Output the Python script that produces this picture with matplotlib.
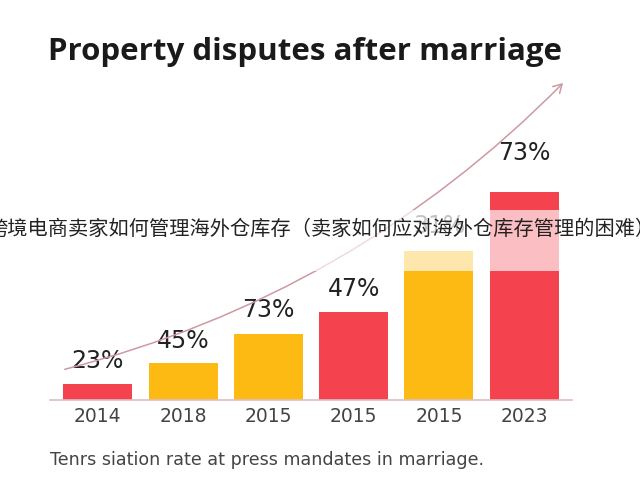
import matplotlib
matplotlib.use("Agg")
import matplotlib.pyplot as plt
from matplotlib.patches import Rectangle, FancyArrowPatch

# ---- data ----
years = ["2014", "2018", "2015", "2015", "2015", "2023"]
heights = [4.7, 10.9, 19.4, 25.9, 43.8, 61.2]
value_labels = ["23%", "45%", "73%", "47%", "31%", "73%"]
bar_colors = ["#F5424F", "#FDBA12", "#FDBA12", "#F5424F", "#FDBA12", "#F5424F"]
label_offsets = [23, 22, 24, 23, 25, 39]   # px above bar top
label_colors = ["#222222", "#222222", "#222222", "#222222", "#555555", "#222222"]

title = "Property disputes after marriage"
overlay = "跨境电商卖家如何管理海外仓库存（卖家如何应对海外仓库存管理的困难）"
footer = "Tenrs siation rate at press mandates in marriage."

W, H = 640, 480
fig = plt.figure(figsize=(6.4, 4.8), dpi=100)
fig.patch.set_facecolor("white")

ax = fig.add_axes([50 / W, 80 / H, 522 / W, 340 / H])
ax.set_xlim(-0.56, 5.56)
ax.set_ylim(0, 100)
x = list(range(len(years)))
ax.bar(x, heights, width=0.81, color=bar_colors, zorder=2)

for s in ["top", "right", "left"]:
    ax.spines[s].set_visible(False)
ax.spines["bottom"].set_color("#D9BFC3")
ax.spines["bottom"].set_linewidth(1.2)
ax.set_yticks([])
ax.set_xticks(x)
ax.set_xticklabels(years, fontsize=13.5, color="#444444")
ax.tick_params(axis="x", length=0, pad=5)
ax.patch.set_alpha(0)

px_per_unit = 340 / 100.0
for xi, h, lab, off, c in zip(x, heights, value_labels, label_offsets, label_colors):
    ax.text(xi, h + off / px_per_unit, lab, ha="center", va="center",
            fontsize=17, color=c, zorder=3)

# curved arrow
arrow = FancyArrowPatch((62 / W, 1 - 370 / H), (565 / W, 1 - 81 / H),
                        transform=fig.transFigure,
                        connectionstyle="arc3,rad=0.14",
                        arrowstyle="->,head_length=6,head_width=3.5",
                        color="#CF98A2", lw=1.1, zorder=1)
fig.add_artist(arrow)

# semi-transparent overlay band
band = Rectangle((0, 1 - 271 / H), 1, 61 / H, transform=fig.transFigure,
                 facecolor="white", alpha=0.66, edgecolor="none", zorder=5)
fig.add_artist(band)
fig.text(321.5 / W, 1 - 229 / H, overlay, ha="center", va="center", fontsize=14.55,
         color="#222222", family=["Noto Sans CJK SC", "DejaVu Sans"], zorder=6)

fig.text(48 / W, 1 - 52 / H, title, ha="left", va="center", fontsize=22.5,
         fontweight="bold", family=["Open Sans", "DejaVu Sans"], color="#1a1a1a")
fig.text(50 / W, 1 - 460 / H, footer, ha="left", va="center", fontsize=12.6,
         color="#444444")

fig.savefig("out.png", dpi=100)
